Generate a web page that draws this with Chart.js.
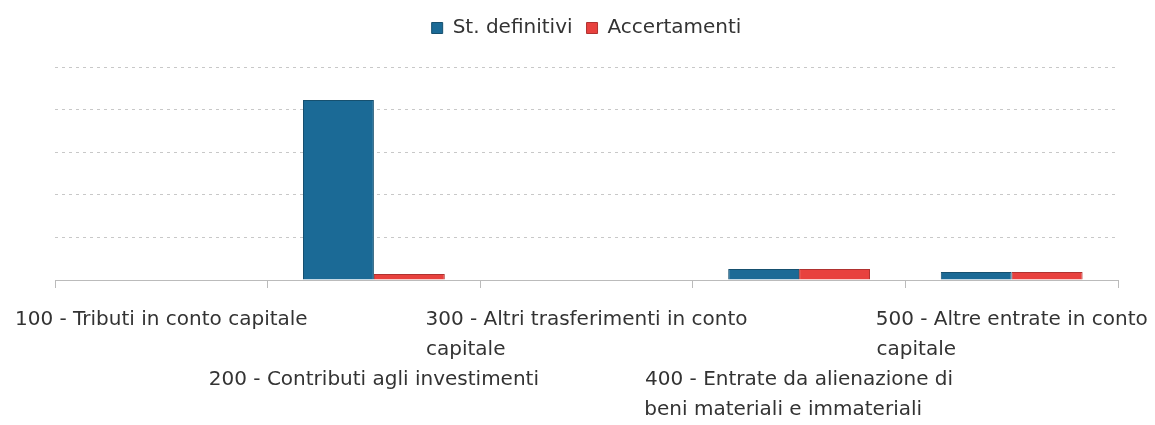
<!DOCTYPE html>
<html lang="it">
<head>
    <meta charset="UTF-8">
    <title>Entrate in conto capitale</title>
    <script src="https://cdn.jsdelivr.net/npm/chart.js"></script>
    <style>
        html, body {
            margin: 0;
            padding: 0;
            background: #fff;
        }
        #chart-container {
            position: relative;
            width: 1155px;
            height: 425px;
        }
    </style>
</head>
<body>
    <div id="chart-container">
        <canvas id="grafico"></canvas>
    </div>

    <script>
        // categorie (righe dell'etichetta)
        const categorie = [
            ['100 - Tributi in conto capitale'],
            ['200 - Contributi agli investimenti'],
            ['300 - Altri trasferimenti in conto', 'capitale'],
            ['400 - Entrate da alienazione di', 'beni materiali e immateriali'],
            ['500 - Altre entrate in conto', 'capitale']
        ];
        const stDefinitivi = [0, 2113000, 0, 129000, 94000];
        const accertamenti = [0, 70000, 0, 129000, 94000];
        const yMax = 2500000;
        const yStep = 500000;

        const fontFamily = "'DejaVu Sans', sans-serif";
        const fontSize = 20;

        // le righe brevi vengono allineate a sinistra aggiungendo spazi
        const mctx = document.createElement('canvas').getContext('2d');
        mctx.font = fontSize + 'px ' + fontFamily;
        function allinea(righe) {
            const larg = Math.max(...righe.map(r => mctx.measureText(r).width));
            const sp = mctx.measureText(' ').width;
            return righe.map(r => r + ' '.repeat(Math.round((larg - mctx.measureText(r).width) / sp)));
        }

        // più spazio sotto la legenda
        const spazioLegenda = {
            id: 'spazioLegenda',
            beforeInit(chart) {
                const fitOrig = chart.legend.fit;
                chart.legend.fit = function () {
                    fitOrig.bind(chart.legend)();
                    this.height += 19;
                };
            }
        };

        const ctx = document.getElementById('grafico').getContext('2d');
        new Chart(ctx, {
            type: 'bar',
            data: {
                labels: categorie.map(c => c.join(' ')),
                datasets: [{
                    label: 'St. definitivi',
                    data: stDefinitivi,
                    backgroundColor: '#1b6a96',
                    borderColor: '#16506f',
                    borderWidth: 1
                }, {
                    label: 'Accertamenti',
                    data: accertamenti,
                    backgroundColor: '#e8413e',
                    borderColor: '#b03230',
                    borderWidth: 1
                }]
            },
            options: {
                responsive: true,
                maintainAspectRatio: false,
                animation: false,
                layout: {
                    padding: { left: 55, right: 37, top: 4, bottom: -17 }
                },
                datasets: {
                    bar: {
                        categoryPercentage: 0.667,
                        barPercentage: 1
                    }
                },
                plugins: {
                    legend: {
                        position: 'top',
                        labels: {
                            boxWidth: 11,
                            boxHeight: 11,
                            padding: 14,
                            color: '#333',
                            font: { family: fontFamily, size: fontSize }
                        }
                    },
                    tooltip: { enabled: false }
                },
                scales: {
                    x: {
                        // le etichette possono uscire dall'area del grafico
                        afterFit: function (scale) {
                            scale.paddingLeft = 0;
                            scale.paddingRight = 0;
                        },
                        grid: {
                            drawOnChartArea: false,
                            drawTicks: true,
                            tickLength: 8,
                            color: '#bbb',
                            offset: true
                        },
                        border: { display: true, color: '#bbb' },
                        ticks: {
                            autoSkip: false,
                            maxRotation: 0,
                            minRotation: 0,
                            padding: 17,
                            color: '#333',
                            font: { family: fontFamily, size: fontSize, lineHeight: 1.5 },
                            callback: function (val, i) {
                                const righe = allinea(categorie[i]);
                                return i % 2 === 1 ? ['', ''].concat(righe) : righe;
                            }
                        }
                    },
                    y: {
                        min: 0,
                        max: yMax,
                        ticks: { display: false, stepSize: yStep },
                        border: { display: false, dash: [3, 4] },
                        grid: {
                            color: '#c8c8c8',
                            drawTicks: false
                        }
                    }
                }
            },
            plugins: [spazioLegenda]
        });
    </script>
</body>
</html>
